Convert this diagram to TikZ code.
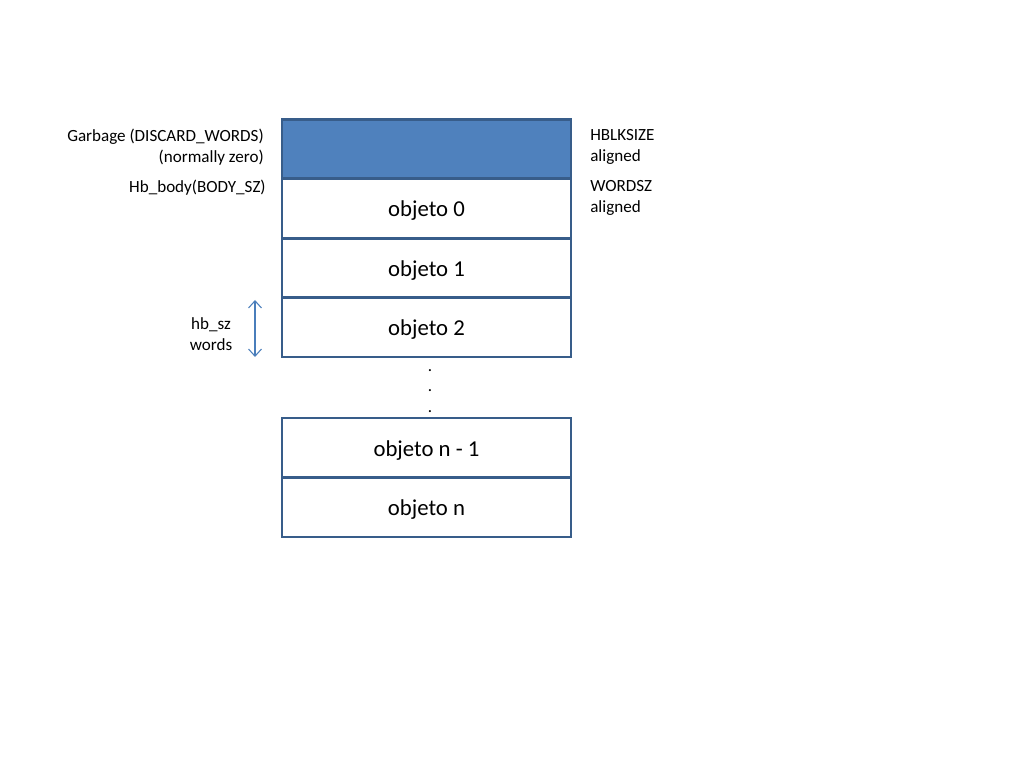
\documentclass[tikz,border=0pt]{standalone}
\usepackage{fontspec}
\setmainfont{Carlito}
\usepackage{xcolor}
\usetikzlibrary{arrows.meta, positioning}

\definecolor{hbborder}{RGB}{56,93,138}
\definecolor{hbfill}{RGB}{79,129,189}
\definecolor{hbarrow}{RGB}{74,126,187}

\begin{document}
\begin{tikzpicture}[x=0.703125pt, y=-0.703125pt,
		cell/.style={draw=hbborder, line width=1.9pt, fill=white, outer sep=0pt, minimum width=203.2pt, minimum height=41.8pt, text height=15.5pt, text depth=3.5pt, font=\fontsize{16}{19.2}\selectfont},
		note/.style={font=\fontsize{12}{14.6}\selectfont, inner sep=0pt},
		szarrow/.style={draw=hbarrow, line width=0.75pt, {Straight Barb[length=5pt, width=9pt]}-{Straight Barb[length=5pt, width=9pt]}}]
		\useasboundingbox (0, 0) rectangle (1024, 768);
		% Cells of the block:
		\node[cell, fill=hbfill] (garb) at (426.5, 149){};
		\node[cell, below=0pt of garb] (o0){objeto 0};
		\node[cell, below=0pt of o0] (o1){objeto 1};
		\node[cell, below=0pt of o1] (o2){objeto 2};
		\node[cell, below=42.9pt of o2] (on1){objeto n - 1};
		\node[cell, below=0pt of on1] (on){objeto n};
		\node[note, align=center] (dots) at (430, 391){.\\.\\.};
		% Labels:
		\node[note, anchor=east, align=right] (garblbl) at (264, 147){Garbage (DISCARD\_WORDS)\\(normally zero)};
		\node[note, anchor=east] (bodylbl) at (266, 188){Hb\_body(BODY\_SZ)};
		\node[note, anchor=west, align=left] (hblklbl) at (590, 147){HBLKSIZE\\aligned};
		\node[note, anchor=west, align=left] (wordlbl) at (590, 198){WORDSZ\\aligned};
		\node[note, align=center] (szlbl) at (211, 334){hb\_sz\\words};
		% Size arrow:
		\coordinate (sztop) at (255, 300);
		\coordinate (szbot) at (255, 357);
		\draw[szarrow] (sztop) -- (szbot);
	\end{tikzpicture}
\end{document}
